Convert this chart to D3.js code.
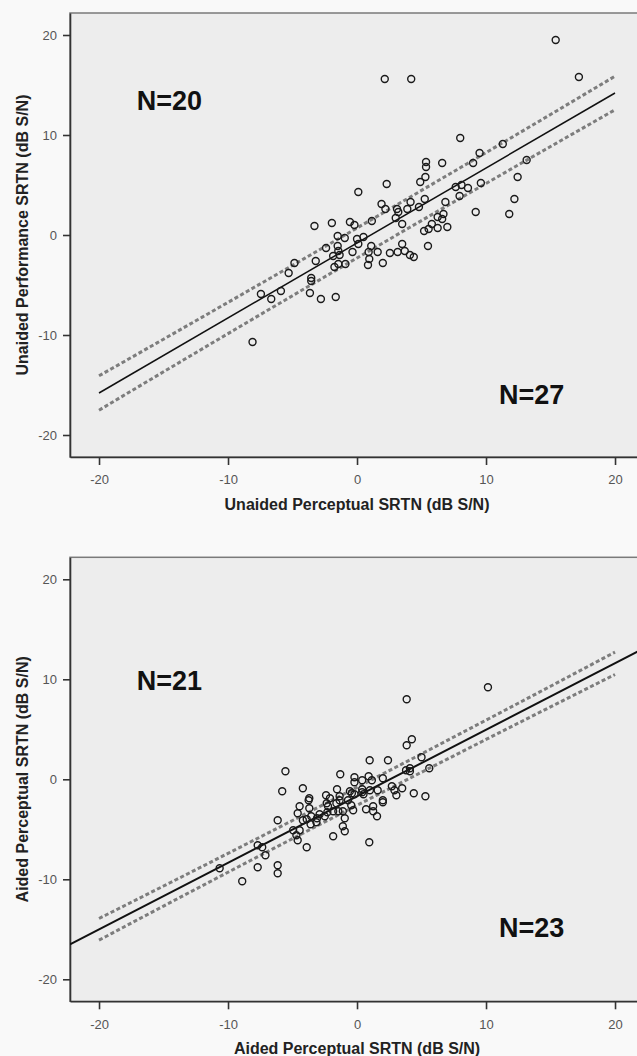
<!DOCTYPE html>
<html>
<head>
<meta charset="utf-8">
<script src="https://cdnjs.cloudflare.com/ajax/libs/d3/7.8.5/d3.min.js"></script>
<style>
body { margin: 0; background: #f8f8f8; }
text { font-family: Arial, "Liberation Sans", sans-serif; }
</style>
</head>
<body>
<div id="chart"></div>
<script>
var ticks = [-20, -10, 0, 10, 20];

// unaided: perceptual (x) vs performance (y)
var unaidedPoints = [
  [15.4, 19.5], [17.2, 15.8], [2.15, 15.6], [4.2, 15.6], [8.0, 9.7], [11.3, 9.1],
  [9.5, 8.2], [9.0, 7.2], [6.6, 7.2], [5.35, 7.3], [5.35, 6.8], [5.3, 5.8],
  [4.9, 5.3], [13.15, 7.5], [12.45, 5.8], [12.2, 3.6], [11.8, 2.1], [9.2, 2.3],
  [9.6, 5.2], [7.65, 4.8], [8.1, 5.0], [8.6, 4.7], [7.95, 3.9], [6.85, 3.3],
  [6.7, 2.1], [6.6, 1.6], [6.25, 1.8], [6.25, 0.7], [7.0, 0.8], [5.8, 1.1],
  [5.55, 0.6], [5.2, 0.4], [5.5, -1.1], [5.25, 3.6], [4.8, 2.8], [4.15, 3.3],
  [3.9, 2.6], [3.5, 1.1], [3.0, 1.7], [3.1, 2.6], [3.2, 2.3], [2.3, 5.1],
  [1.9, 3.1], [2.2, 2.6], [0.1, 4.3], [1.15, 1.4], [-0.55, 1.3], [-0.2, 1.0],
  [-1.95, 1.2], [-3.3, 0.9], [-1.5, -0.1], [-0.95, -0.3], [0, -0.4], [0.5, -0.2],
  [-2.4, -1.3], [-1.5, -1.1], [-1.45, -1.6], [-1.85, -2.1], [-1.35, -2.0], [-0.35, -1.7],
  [0.1, -0.9], [1.1, -1.1], [0.9, -1.7], [1.6, -1.7], [2.55, -1.8], [3.15, -1.7],
  [3.5, -0.9], [3.7, -1.6], [4.1, -2.0], [4.4, -2.2], [-3.2, -2.6], [-1.75, -3.2],
  [-1.45, -2.9], [-0.9, -2.9], [0.85, -3.0], [0.95, -2.4], [2.0, -2.8], [-3.55, -4.3],
  [-3.55, -4.6], [-3.65, -5.8], [-2.8, -6.4], [-1.65, -6.2], [-4.85, -2.8], [-5.3, -3.8],
  [-5.9, -5.6], [-7.45, -5.9], [-6.65, -6.4], [-8.1, -10.7]
];

// aided: perceptual (x) vs perceptual (y)
var aidedPoints = [
  [10.15, 9.2], [3.85, 8.0], [4.25, 4.0], [3.85, 3.4], [0.98, 1.9], [2.4, 1.9],
  [5.0, 2.2], [5.6, 1.1], [4.1, 1.1], [4.1, 0.8], [3.8, 0.9], [-1.3, 0.5],
  [-0.2, 0.2], [0.4, -0.1], [0.9, 0.3], [1.15, -0.1], [2.0, 0.1], [-4.2, -0.9],
  [-1.55, -1.0], [-0.2, -0.3], [2.7, -0.7], [2.9, -1.1], [3.5, -0.9], [4.4, -1.4],
  [5.3, -1.7], [-2.4, -1.6], [-3.7, -1.9], [-0.55, -1.2], [-0.2, -1.5], [0.4, -1.3],
  [1.0, -1.1], [1.6, -1.1], [3.05, -1.6], [-0.7, -2.1], [-0.45, -2.6], [-0.3, -3.1],
  [0.7, -3.0], [1.25, -2.7], [1.25, -3.2], [1.55, -3.7], [2.0, -2.1], [2.0, -2.3],
  [-1.35, -1.7], [-1.1, -3.2], [-0.95, -3.9], [-1.1, -4.7], [-0.95, -5.2], [0.95, -6.3],
  [-5.55, 0.8], [-5.8, -1.2], [-3.75, -2.1], [-3.7, -2.9], [-4.45, -2.7], [-4.6, -3.4],
  [-4.2, -4.1], [-3.9, -4.0], [-3.55, -3.7], [-3.6, -4.5], [-3.15, -4.3], [-2.9, -3.5],
  [-3.1, -3.9], [-2.1, -1.9], [-2.35, -2.4], [-2.25, -2.7], [-1.85, -3.2], [-1.45, -3.2],
  [-1.6, -2.4], [-1.35, -2.1], [-2.5, -3.7], [-2.3, -3.3], [-1.85, -5.7], [-6.15, -4.1],
  [-4.95, -5.1], [-4.45, -5.1], [-4.6, -6.1], [-4.7, -5.6], [-3.9, -6.8], [-7.7, -6.6],
  [-7.35, -6.8], [-7.1, -7.6], [-7.7, -8.8], [-6.15, -8.6], [-6.15, -9.4], [-10.65, -8.9],
  [-8.9, -10.2], [0.4, -1.0], [-0.4, -1.4], [0.5, -1.5]
];

// regression: [intercept, slope]; band: [half width at centre, half width at +-20, centre x]
var unaidedFit = [-0.8, 0.75];
var unaidedBand = [1.5, 1.7, 1.0];
var aidedFit = [-1.7, 0.665];
var aidedBand = [0.9, 1.1, -1.0];

var unaidedLabels = [["N=20", -17.07, 12.5], ["N=27", 11.0, -16.9]];
var aidedLabels = [["N=21", -17.07, 8.9], ["N=23", 11.0, -15.8]];

var svg = d3.select("#chart")
            .append("svg")
            .attr("width", 637)
            .attr("height", 1056);

svg.append("rect")
   .attr("width", 637)
   .attr("height", 1056)
   .attr("fill", "#f9f9f9");

function drawPanel(top, pts, fit, band, fullLine, xTitle, yTitle, labels, id) {
  var x = d3.scaleLinear().domain([-22.25, 22.25]).range([70, 644.05]);
  var y = d3.scaleLinear().domain([-22.2, 22.2]).range([top + 444, top]);
  var fmt = function(d) { return String(d); };

  var g = svg.append("g");

  svg.append("clipPath").attr("id", id)
     .append("rect")
     .attr("x", x(-22.25)).attr("y", y(22.2))
     .attr("width", x(22.25) - x(-22.25))
     .attr("height", y(-22.2) - y(22.2));

  g.append("rect")
   .attr("x", x(-22.25)).attr("y", y(22.2))
   .attr("width", x(22.25) - x(-22.25))
   .attr("height", y(-22.2) - y(22.2))
   .attr("fill", "#ededed")
   .attr("stroke", "#7a7a7a")
   .attr("stroke-width", 1.5);

  // axes
  var ya = g.append("g")
   .attr("transform", "translate(" + x(-22.25) + ",0)")
   .call(d3.axisLeft(y).tickValues(ticks).tickFormat(fmt).tickSize(7).tickPadding(6).tickSizeOuter(0));
  var xa = g.append("g")
   .attr("transform", "translate(0," + y(-22.2) + ")")
   .call(d3.axisBottom(x).tickValues(ticks).tickFormat(fmt).tickSize(8).tickPadding(10).tickSizeOuter(0));
  [ya, xa].forEach(function(a) {
    a.select(".domain").attr("stroke", "#333").attr("stroke-width", 1.6);
    a.selectAll(".tick line").attr("stroke", "#333").attr("stroke-width", 1.6);
    a.selectAll(".tick text")
     .attr("fill", "#555")
     .attr("font-size", "13px")
     .attr("font-family", "Arial, 'Liberation Sans', sans-serif");
  });

  var lines = g.append("g").attr("clip-path", "url(#" + id + ")");

  function fitY(v) { return fit[0] + fit[1] * v; }
  function half(v) {
    var t = (v - band[2]) / 20;
    return Math.sqrt(band[0] * band[0] + (band[1] * band[1] - band[0] * band[0]) * t * t);
  }
  var xs = d3.range(-20, 20.01, 0.5);

  ["upper", "lower"].forEach(function(side) {
    var s = side == "upper" ? 1 : -1;
    lines.append("path")
     .datum(xs)
     .attr("d", d3.line()
        .x(function(d) { return x(d); })
        .y(function(d) { return y(fitY(d) + s * half(d)); }))
     .attr("fill", "none")
     .attr("stroke", "#7d7d7d")
     .attr("stroke-width", 3)
     .attr("stroke-dasharray", "4,2.5");
  });

  var ends = fullLine ? [-22.25, 22.25] : [-20, 20];
  lines.append("line")
   .attr("x1", x(ends[0])).attr("y1", y(fitY(ends[0])))
   .attr("x2", x(ends[1])).attr("y2", y(fitY(ends[1])))
   .attr("stroke", "#111")
   .attr("stroke-width", fullLine ? 2 : 1.5);

  lines.selectAll("circle")
   .data(pts)
   .enter()
   .append("circle")
   .attr("cx", function(d) { return x(d[0]); })
   .attr("cy", function(d) { return y(d[1]); })
   .attr("r", 3.5)
   .attr("fill", "none")
   .attr("stroke", "#1a1a1a")
   .attr("stroke-width", 1.4);

  g.selectAll("text.n")
   .data(labels)
   .enter()
   .append("text")
   .attr("class", "n")
   .text(function(d) { return d[0]; })
   .attr("x", function(d) { return x(d[1]); })
   .attr("y", function(d) { return y(d[2]); })
   .attr("font-size", "27px")
   .attr("font-weight", "bold")
   .attr("fill", "#111");

  g.append("text")
   .text(xTitle)
   .attr("x", x(0))
   .attr("y", y(-22.2) + 53)
   .attr("text-anchor", "middle")
   .attr("font-size", "16px")
   .attr("font-weight", "bold")
   .attr("fill", "#222");

  g.append("text")
   .text(yTitle)
   .attr("transform", "translate(28," + y(0) + ") rotate(-90)")
   .attr("text-anchor", "middle")
   .attr("font-size", "16px")
   .attr("font-weight", "bold")
   .attr("fill", "#222");
}

drawPanel(13, unaidedPoints, unaidedFit, unaidedBand, false,
  "Unaided Perceptual SRTN (dB S/N)", "Unaided Performance SRTN (dB S/N)", unaidedLabels, "clipTop");
drawPanel(557.3, aidedPoints, aidedFit, aidedBand, true,
  "Aided Perceptual SRTN (dB S/N)", "Aided Perceptual SRTN (dB S/N)", aidedLabels, "clipBottom");
</script>
</body>
</html>
